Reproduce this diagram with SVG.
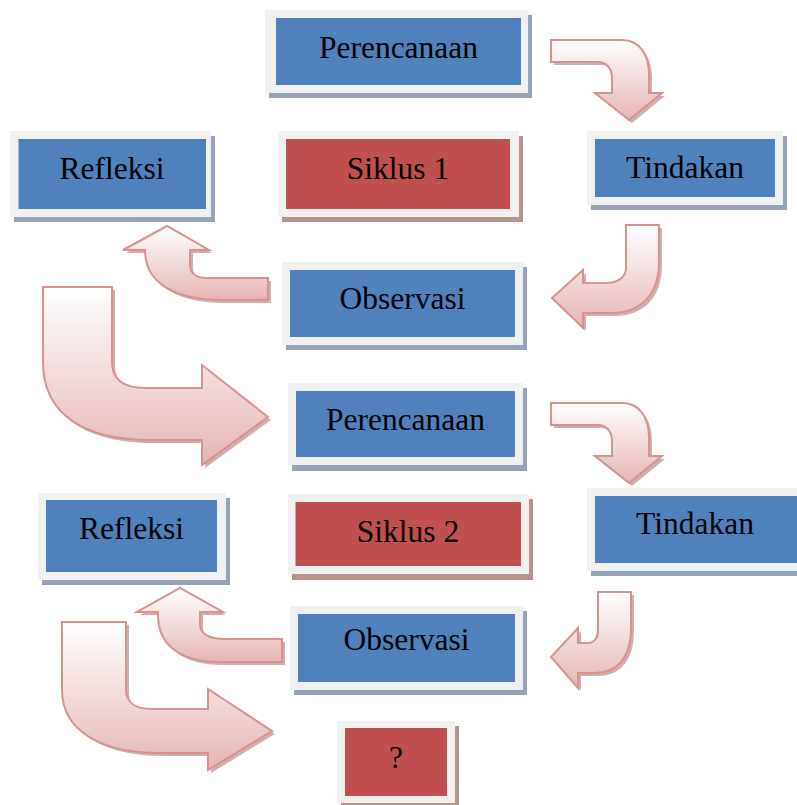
<svg xmlns="http://www.w3.org/2000/svg" width="797" height="805" viewBox="0 0 797 805">
<defs>
<linearGradient id="ag" x1="0" y1="0" x2="0" y2="1">
<stop offset="0" stop-color="#ffffff"/>
<stop offset="1" stop-color="#e5b6b5"/>
</linearGradient>
<style>
.fr{fill:#f1f1f1}
.shb{fill:#94a3b9}
.shr{fill:#b99290}
.bl{fill:#4f81bd}
.rd{fill:#c0504d}
.t{font-family:"Liberation Serif","Times New Roman",serif;font-size:31.5px;fill:#000;text-anchor:middle}
.ar{fill:url(#ag);stroke:#d9908f;stroke-width:2;stroke-linejoin:miter}
.as{fill:#c49c9b;opacity:0.8}
</style>
</defs>
<rect width="797" height="805" fill="#ffffff"/>

<g id="connectors">
<!-- A: Perencanaan 1 -> Tindakan 1 -->
<g id="arrowA">
<path class="as" transform="translate(3,3)" d="M551,40 L622,40 C640,40 649,55 649,75 L649,93 L662,93 L629,120 L595,93 L612,93 L612,78 C612,68 606,62 598,62 L551,62 Z"/>
<path class="ar" d="M551,40 L622,40 C640,40 649,55 649,75 L649,93 L662,93 L629,120 L595,93 L612,93 L612,78 C612,68 606,62 598,62 L551,62 Z"/>
</g>
<!-- B: Tindakan 1 -> Observasi 1 -->
<g id="arrowB">
<path class="as" transform="translate(3,3)" d="M626,225 L659,225 L659,262 C659,295 640,313 612,313 L583,313 L583,328 L552,298 L583,270 L583,283 L606,283 C618,283 626,277 626,268 Z"/>
<path class="ar" d="M626,225 L659,225 L659,262 C659,295 640,313 612,313 L583,313 L583,328 L552,298 L583,270 L583,283 L606,283 C618,283 626,277 626,268 Z"/>
</g>
<!-- C: Observasi 1 -> Refleksi 1 -->
<g id="arrowC">
<path class="as" transform="translate(3,3)" d="M268,278 L268,300 L222,300 C178,300 145,285 145,250 L123,250 L167,226 L209,250 L190,250 L190,265 C190,273 196,278 207,278 Z"/>
<path class="ar" d="M268,278 L268,300 L222,300 C178,300 145,285 145,250 L123,250 L167,226 L209,250 L190,250 L190,265 C190,273 196,278 207,278 Z"/>
</g>
<!-- D: Refleksi 1 -> Perencanaan 2 -->
<g id="arrowD">
<path class="as" transform="translate(3,3)" d="M43,287 L112,287 L112,362 C112,378 122,388 145,388 L202,388 L202,365 L268,417 L202,465 L202,440 L150,440 C85,440 43,415 43,362 Z"/>
<path class="ar" d="M43,287 L112,287 L112,362 C112,378 122,388 145,388 L202,388 L202,365 L268,417 L202,465 L202,440 L150,440 C85,440 43,415 43,362 Z"/>
</g>
<!-- E: Perencanaan 2 -> Tindakan 2 -->
<g id="arrowE" transform="translate(0,363)">
<path class="as" transform="translate(3,3)" d="M551,40 L622,40 C640,40 649,55 649,75 L649,93 L662,93 L629,120 L595,93 L612,93 L612,78 C612,68 606,62 598,62 L551,62 Z"/>
<path class="ar" d="M551,40 L622,40 C640,40 649,55 649,75 L649,93 L662,93 L629,120 L595,93 L612,93 L612,78 C612,68 606,62 598,62 L551,62 Z"/>
</g>
<!-- F: Tindakan 2 -> Observasi 2 -->
<g id="arrowF">
<path class="as" transform="translate(3,3)" d="M598,592 L631,592 L631,628 C631,660 615,673 595,673 L578,673 L578,688 L551,657 L578,628 L578,643 L588,643 C594,643 598,638 598,630 Z"/>
<path class="ar" d="M598,592 L631,592 L631,628 C631,660 615,673 595,673 L578,673 L578,688 L551,657 L578,628 L578,643 L588,643 C594,643 598,638 598,630 Z"/>
</g>
<!-- G: Observasi 2 -> Refleksi 2 -->
<g id="arrowG">
<path class="as" transform="translate(3,3)" d="M282,639 L282,662 L220,662 C180,662 158,645 158,615 L158,612 L137,612 L180,588 L223,612 L200,612 L200,625 C200,634 210,639 225,639 Z"/>
<path class="ar" d="M282,639 L282,662 L220,662 C180,662 158,645 158,615 L158,612 L137,612 L180,588 L223,612 L200,612 L200,625 C200,634 210,639 225,639 Z"/>
</g>
<!-- H: Refleksi 2 -> ? -->
<g id="arrowH">
<path class="as" transform="translate(3,3)" d="M62,622 L126,622 L126,690 C126,702 135,709 152,709 L208,709 L208,689 L272,731 L208,770 L208,753 L160,753 C100,753 62,730 62,690 Z"/>
<path class="ar" d="M62,622 L126,622 L126,690 C126,702 135,709 152,709 L208,709 L208,689 L272,731 L208,770 L208,753 L160,753 C100,753 62,730 62,690 Z"/>
</g>
</g>

<g id="perencanaan1">
<rect class="shb" x="269" y="15" width="263" height="83"/>
<rect class="fr" x="265" y="10" width="263" height="83"/>
<rect class="bl" x="276" y="18" width="245" height="67"/>
<text class="t" x="398.5" y="58">Perencanaan</text>
</g>
<g id="refleksi1">
<rect class="shb" x="14" y="136" width="201" height="86"/>
<rect class="fr" x="10" y="131" width="201" height="86"/>
<rect class="bl" x="18.5" y="139" width="187.5" height="70"/>
<text class="t" x="112" y="179">Refleksi</text>
</g>
<g id="siklus1">
<rect class="shr" x="282" y="136" width="241" height="86"/>
<rect class="fr" x="278" y="131" width="241" height="86"/>
<rect class="rd" x="286" y="139" width="224" height="70"/>
<text class="t" x="398" y="179">Siklus 1</text>
</g>
<g id="tindakan1">
<rect class="shb" x="591" y="136" width="196" height="74"/>
<rect class="fr" x="587" y="131" width="196" height="74"/>
<rect class="bl" x="595" y="139" width="180" height="58"/>
<text class="t" x="685" y="178">Tindakan</text>
</g>
<g id="observasi1">
<rect class="shb" x="286" y="267" width="241" height="83"/>
<rect class="fr" x="282" y="262" width="241" height="83"/>
<rect class="bl" x="290" y="270" width="225" height="67"/>
<text class="t" x="402.5" y="309">Observasi</text>
</g>
<g id="perencanaan2">
<rect class="shb" x="292" y="388" width="235" height="83"/>
<rect class="fr" x="288" y="383" width="235" height="82"/>
<rect class="bl" x="296" y="391" width="219" height="66"/>
<text class="t" x="405.5" y="430">Perencanaan</text>
</g>
<g id="refleksi2">
<rect class="shb" x="42" y="498" width="188" height="87"/>
<rect class="fr" x="38" y="493" width="188" height="87"/>
<rect class="bl" x="46" y="500" width="171" height="72"/>
<text class="t" x="131.5" y="539">Refleksi</text>
</g>
<g id="siklus2">
<rect class="shr" x="292" y="499" width="241" height="81"/>
<rect class="fr" x="288" y="494" width="241" height="80"/>
<rect class="rd" x="295.5" y="502" width="225.5" height="64"/>
<text class="t" x="408" y="542">Siklus 2</text>
</g>
<g id="tindakan2">
<rect class="shb" x="591" y="493" width="210" height="83"/>
<rect class="fr" x="587" y="488" width="215" height="83"/>
<rect class="bl" x="595" y="496" width="202" height="67"/>
<text class="t" x="695" y="534">Tindakan</text>
</g>
<g id="observasi2">
<rect class="shb" x="294" y="611" width="233" height="84"/>
<rect class="fr" x="290" y="606" width="233" height="84"/>
<rect class="bl" x="298" y="614" width="217" height="68"/>
<text class="t" x="406.5" y="650">Observasi</text>
</g>
<g id="unknown">
<rect class="shr" x="341" y="726" width="118" height="82"/>
<rect class="fr" x="337" y="721" width="118" height="82"/>
<rect class="rd" x="345" y="728" width="102" height="68"/>
<text class="t" x="396" y="768">?</text>
</g>
</svg>
